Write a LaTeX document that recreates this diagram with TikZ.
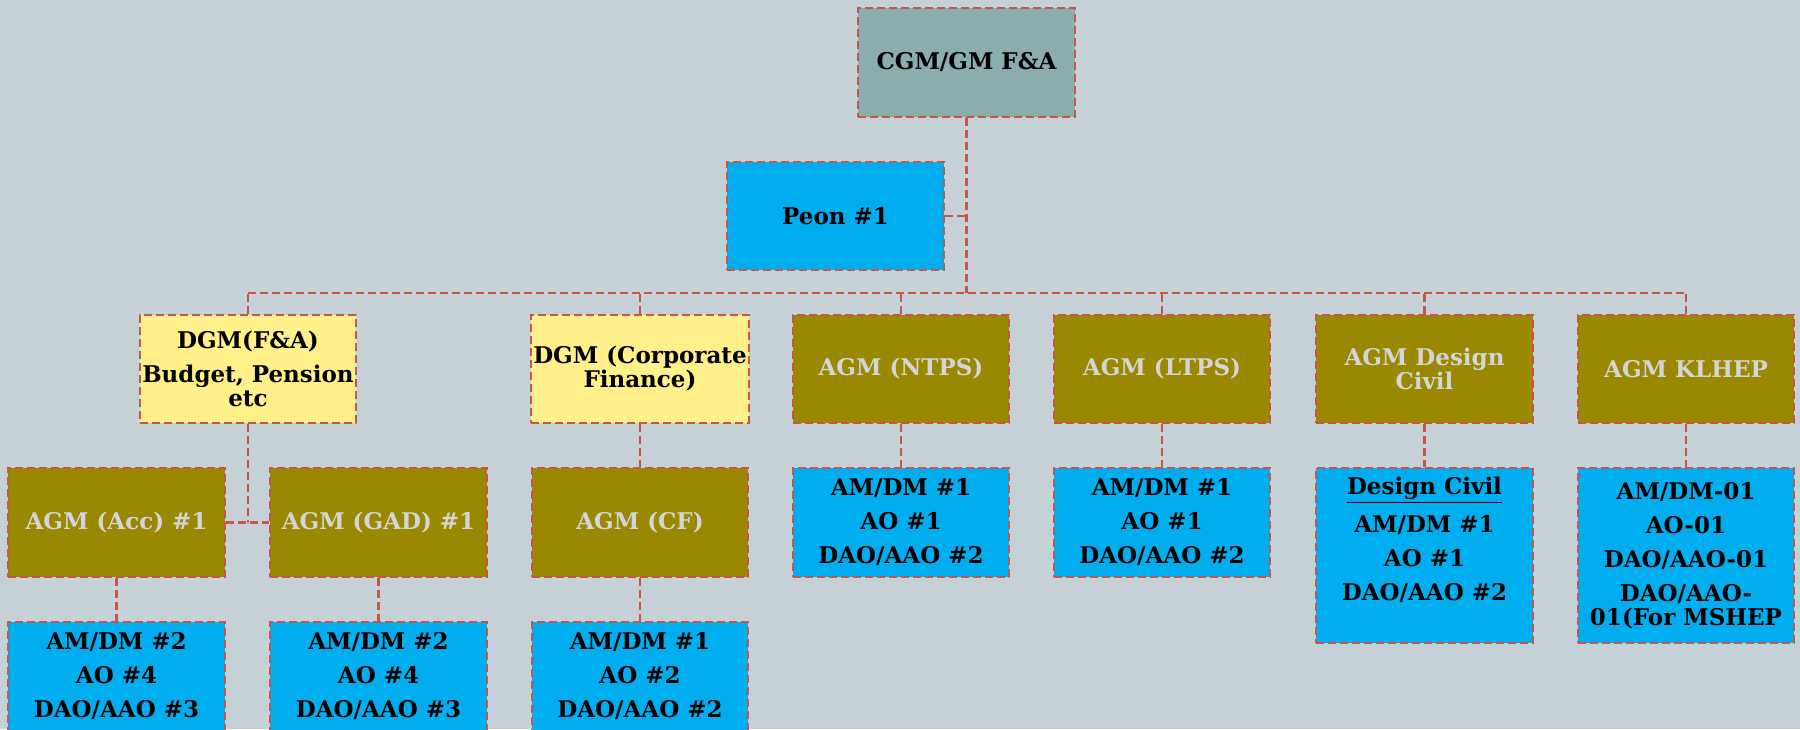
\documentclass[tikz,border=0pt]{standalone}
\usepackage{fontspec}
\setmainfont{DejaVu Serif}
\definecolor{bg}{HTML}{C5D1D7}
\definecolor{teal}{HTML}{8CADAE}
\definecolor{sky}{HTML}{00AEEF}
\definecolor{lemon}{HTML}{FFF08A}
\definecolor{olive}{HTML}{998800}
\definecolor{olivetext}{HTML}{D2D6D8}
\definecolor{edge}{HTML}{C4564A}
\tikzset{
  box/.style={draw=edge, line width=1.1pt, dash pattern=on 4pt off 2pt, rectangle,
    inner sep=1pt, align=center, font=\fontsize{11.5}{12}\selectfont\bfseries,
    minimum width=108pt},
  topbox/.style={box, fill=teal, minimum height=54.5pt},
  bluebox/.style={box, fill=sky, minimum height=54.5pt},
  tallblue/.style={box, fill=sky, minimum height=87.5pt},
  yelbox/.style={box, fill=lemon, minimum height=54pt},
  olbox/.style={box, fill=olive, text=olivetext, minimum height=54.5pt},
  conn/.style={draw=edge, line width=1.2pt, dash pattern=on 4pt off 2pt},
}
\begin{document}
\begin{tikzpicture}[x=0.5pt,y=-0.5pt]
\fill[bg] (0,0) rectangle (1800,729);
\useasboundingbox (0,0) rectangle (1800,729);

% connectors (drawn first, under boxes)
\coordinate (trunk) at (966.5,293);
\coordinate (busL) at (248,293);
\coordinate (busR) at (1686,293);
\coordinate (jn) at (248,522.5);

% level 0/1
\node[topbox, minimum width=108.5pt] (cgm) at (966.5,62.5) {CGM/GM F\&A};
\node[bluebox, minimum width=108.5pt, minimum height=54pt] (peon) at (835.5,216) {Peon \#1};

% level 2
\node[yelbox] (fa) at (248,369) {DGM(F\&A)\\[5pt]Budget, Pension\\etc};
\node[yelbox] (cf) at (640,369) {DGM (Corporate\\Finance)};
\node[olbox, minimum height=54pt] (ntps) at (901,369) {AGM (NTPS)};
\node[olbox, minimum height=54pt] (ltps) at (1162,369) {AGM (LTPS)};
\node[olbox, minimum height=54pt, minimum width=108.5pt] (des) at (1424.5,369) {AGM Design\\Civil};
\node[olbox, minimum height=54pt] (kl) at (1686,369) {AGM KLHEP};

% level 3
\node[olbox, minimum width=108.5pt] (acc) at (116.5,522.5) {AGM (Acc) \#1};
\node[olbox, minimum width=108.5pt] (gad) at (378.5,522.5) {AGM (GAD) \#1};
\node[olbox] (agmcf) at (640,522.5) {AGM (CF)};
\node[bluebox] (ntpsb) at (901,522.5) {AM/DM \#1\\[5pt]AO \#1\\[5pt]DAO/AAO \#2};
\node[bluebox] (ltpsb) at (1162,522.5) {AM/DM \#1\\[5pt]AO \#1\\[5pt]DAO/AAO \#2};
\node[tallblue, minimum width=108.5pt] (desb) at (1424.5,555.5) {\underline{Design Civil}\\[5pt]AM/DM \#1\\[5pt]AO \#1\\[5pt]DAO/AAO \#2\\[5pt]\mbox{}};
\node[tallblue] (klb) at (1686,555.5) {AM/DM-01\\[5pt]AO-01\\[5pt]DAO/AAO-01\\[5pt]DAO/AAO-\\01(For MSHEP};

% level 4
\node[bluebox, minimum width=108.5pt] (accb) at (116.5,676.5) {AM/DM \#2\\[5pt]AO \#4\\[5pt]DAO/AAO \#3};
\node[bluebox, minimum width=108.5pt] (gadb) at (378.5,676.5) {AM/DM \#2\\[5pt]AO \#4\\[5pt]DAO/AAO \#3};
\node[bluebox] (cfb) at (640,676.5) {AM/DM \#1\\[5pt]AO \#2\\[5pt]DAO/AAO \#2};

\draw[conn] (cgm.south) -- (trunk);
\draw[conn] (peon.east) -- (peon.east -| cgm.south);
\draw[conn] (busL) -- (busR);
\foreach \n in {fa,cf,ntps,ltps,des,kl}{
  \draw[conn] (\n.north) -- (\n.north |- busL);
}
\draw[conn] (fa.south) -- (jn);
\draw[conn] (acc.east) -- (gad.west);
\draw[conn] (acc.south) -- (accb.north);
\draw[conn] (gad.south) -- (gadb.north);
\draw[conn] (cf.south) -- (agmcf.north);
\draw[conn] (agmcf.south) -- (cfb.north);
\draw[conn] (ntps.south) -- (ntpsb.north);
\draw[conn] (ltps.south) -- (ltpsb.north);
\draw[conn] (des.south) -- (desb.north);
\draw[conn] (kl.south) -- (klb.north);
\end{tikzpicture}
\end{document}
